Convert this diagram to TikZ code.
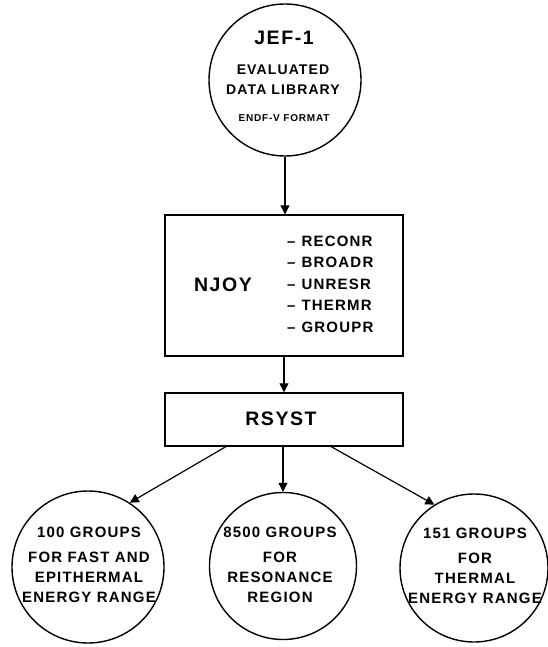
\documentclass[tikz,border=0pt]{standalone}
\usepackage{fontspec}
\setmainfont{Liberation Sans}[LetterSpace=8]
\usetikzlibrary{arrows.meta}

\tikzset{
  every node/.style={font=\bfseries, inner sep=0pt},
  bubble/.style={circle, draw, line width=1.4pt},
  panel/.style={rectangle, draw, line width=1.4pt},
  flow/.style={line width=1.2pt, -{Triangle[width=9pt,length=9pt]}},
  big/.style={font=\bfseries\fontsize{19.5}{22}\selectfont},
  mid/.style={font=\bfseries\fontsize{14}{20}\selectfont, align=center},
  groups/.style={font=\bfseries\fontsize{15}{20}\selectfont, align=center},
  small/.style={font=\bfseries\fontsize{10}{12}\selectfont},
}

\begin{document}
\begin{tikzpicture}[x=1pt, y=-1pt]
\useasboundingbox (0,0) rectangle (547,647);
% library
\node[bubble, minimum size=152pt] (jef) at (285,80) {};
\node[big] (jefname) at (284,38) {JEF-1};
\node[mid] (jeftext) at (283,70) {EVALUATED};
\node[mid] (jeflib) at (283,90) {DATA LIBRARY};
\node[small] (jeffmt) at (284,118) {ENDF-V FORMAT};
% processing
\node[panel, minimum width=238pt, minimum height=141pt] (njoy) at (284,285.5) {};
\node[big] (njoyname) at (223,285) {NJOY};
\foreach \name [count=\i] in {RECONR,BROADR,UNRESR,THERMR,GROUPR}
  \node[font=\bfseries\fontsize{15}{17}\selectfont, anchor=west] (mod\i) at (287,219.5+21.5*\i) {\textendash\hspace{6pt}\name};
\node[panel, minimum width=238pt, minimum height=53pt] (rsyst) at (284,419.5) {};
\node[big] (rsystname) at (281,419) {RSYST};
% group libraries
\node[bubble, minimum size=152pt] (fast) at (88,567) {};
\node[bubble, minimum size=147pt] (reso) at (283,566) {};
\node[bubble, minimum size=148pt] (therm) at (474,568) {};
\node[groups, anchor=north] (fasttext) at (89,527) {100 GROUPS\\[5pt] FOR FAST AND\\ EPITHERMAL\\ ENERGY RANGE};
\node[groups, anchor=north] (resotext) at (280,527) {8500 GROUPS\\[5pt] FOR\\ RESONANCE\\ REGION};
\node[groups, anchor=north] (thermtext) at (475,528) {151 GROUPS\\[5pt] FOR\\ THERMAL\\ ENERGY RANGE};
% flow
\coordinate (rsl) at (227,446);
\coordinate (rsr) at (330,446);
\draw[flow] (jef.south) -- (jef.south |- njoy.north);
\draw[flow] (njoy.south) -- (rsyst.north);
\draw[flow] (reso.north |- rsyst.south) -- (reso.north);
\draw[flow] (rsl) -- (fast.57);
\draw[flow] (rsr) -- (therm.122);
\end{tikzpicture}
\end{document}
